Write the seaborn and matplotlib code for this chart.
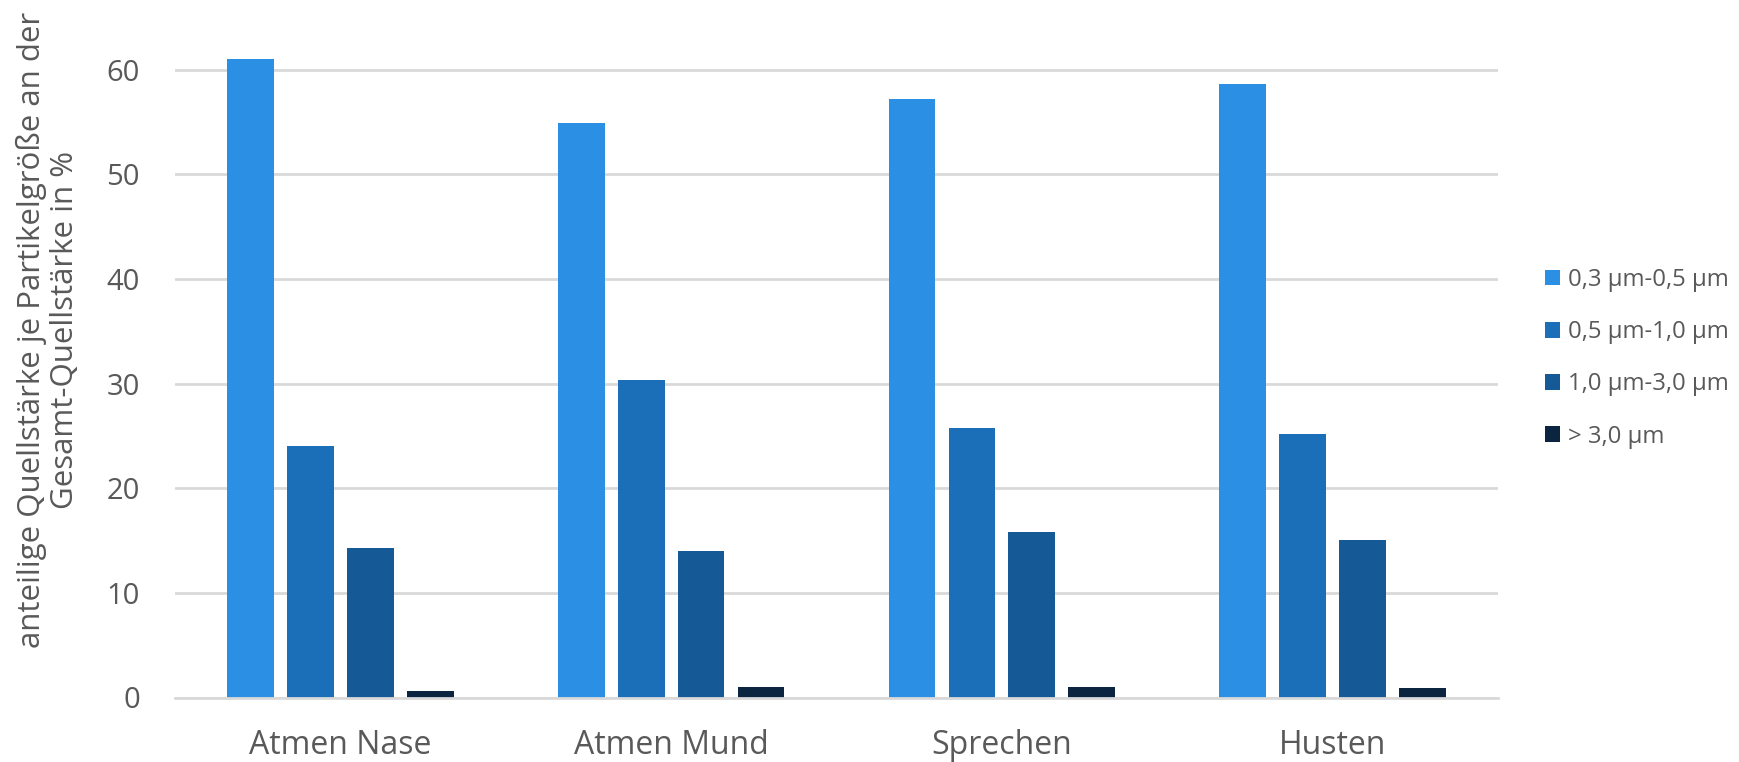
import matplotlib
matplotlib.use("Agg")
import matplotlib.pyplot as plt
import seaborn as sns
import pandas as pd

# Anteil der Partikelgrößenklassen an der Gesamt-Quellstärke (%)
activities = ["Atmen Nase", "Atmen Mund", "Sprechen", "Husten"]
size_classes = ["0,3 µm-0,5 µm", "0,5 µm-1,0 µm", "1,0 µm-3,0 µm", "> 3,0 µm"]
share_03_05 = [61.0, 54.9, 57.2, 58.6]
share_05_10 = [24.0, 30.3, 25.8, 25.2]
share_10_30 = [14.3, 14.0, 15.8, 15.1]
share_gt_30 = [0.6, 1.0, 1.0, 0.9]
y_ticks = [0, 10, 20, 30, 40, 50, 60]

palette = ["#2B8FE3", "#1B6EB8", "#155A96", "#0B2440"]
text_grey = "#595959"
grid_grey = "#D9D9D9"

rows = []
for cls, values in zip(size_classes,
                       [share_03_05, share_05_10, share_10_30, share_gt_30]):
    for act, v in zip(activities, values):
        rows.append({"Tätigkeit": act, "Größe": cls, "Anteil": v})
df = pd.DataFrame(rows)

sns.set_style("white")
plt.rcParams["font.family"] = ["Open Sans", "DejaVu Sans"]

W, H = 1740, 762
PX = 72 / 100  # points per pixel at 100 dpi
fig = plt.figure(figsize=(W / 100, H / 100), dpi=100)
ax = fig.add_axes([175 / W, 1 - 697.5 / H, (1498 - 175) / W, (697.5 - 7) / H])

sns.barplot(data=df, x="Tätigkeit", y="Anteil", hue="Größe",
            order=activities, hue_order=size_classes, palette=palette,
            width=0.725, gap=0.22, saturation=1, errorbar=None,
            linewidth=0, ax=ax, legend=True)

ax.set_xlim(-0.5, 3.5)
ax.set_ylim(0, 66)
ax.set_yticks(y_ticks)
ax.yaxis.grid(True, color=grid_grey, linewidth=2)
ax.set_axisbelow(True)
for side in ["top", "right", "left"]:
    ax.spines[side].set_visible(False)
ax.spines["bottom"].set_color(grid_grey)
ax.spines["bottom"].set_linewidth(2)
ax.tick_params(axis="both", length=0, labelcolor=text_grey)
ax.tick_params(axis="y", labelsize=21, pad=35 * PX)
ax.tick_params(axis="x", labelsize=23, pad=32 * PX)
ax.set_xlabel("")
ax.set_ylabel("")

fig.text(48 / W, 1 - 330 / H,
         "anteilige Quellstärke je Partikelgröße an der\nGesamt-Quellstärke in %",
         rotation=90, ha="center", va="center", fontsize=22.5,
         color=text_grey, linespacing=1.12, multialignment="center")

handles, labels = ax.get_legend_handles_labels()
ax.legend(handles, labels, loc="upper left",
          bbox_to_anchor=(1545 / W, 1 - 268 / H),
          bbox_transform=fig.transFigure, frameon=False,
          fontsize=17.2, labelcolor=text_grey,
          handlelength=0.62, handleheight=0.62, handletextpad=0.35,
          labelspacing=1.18, borderpad=0, borderaxespad=0)

fig.savefig("out.png", dpi=100, facecolor="white")
